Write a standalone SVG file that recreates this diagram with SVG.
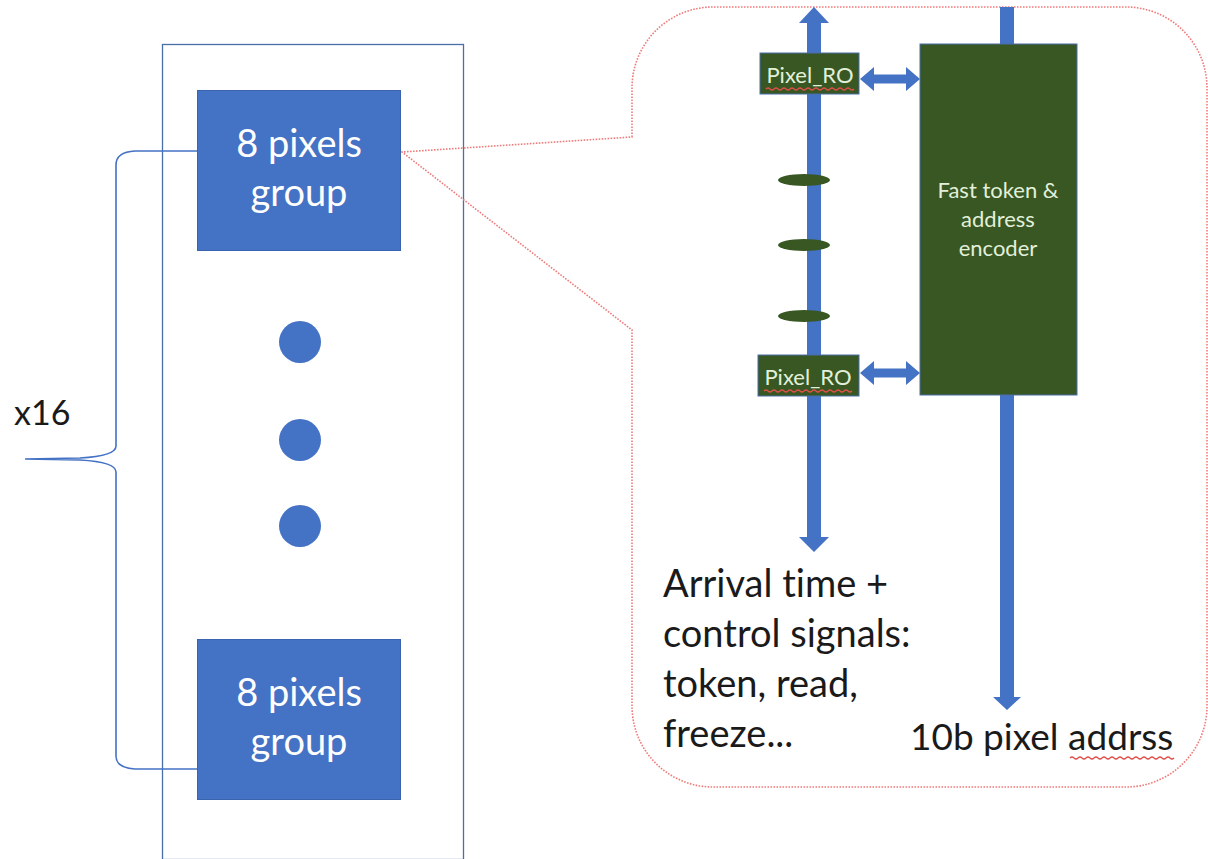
<svg xmlns="http://www.w3.org/2000/svg" width="1208" height="859" viewBox="0 0 1208 859">
<style>
text{font-variant-ligatures:none;font-feature-settings:"liga" 0}
.blue{fill:#4472c4}
.grp{fill:#4472c4;stroke:#3a64ad;stroke-width:1}
.grn{fill:#385723;stroke:#4a6fa8;stroke-width:1}
.wt{font-family:Lato,"Liberation Sans",sans-serif;fill:#ffffff;text-anchor:middle}
.lt{font-family:Lato,"Liberation Sans",sans-serif;fill:#e2f0d9;text-anchor:middle}
.bk{font-family:Lato,"Liberation Sans",sans-serif;fill:#1a1a1a}
.sq{fill:none;stroke:#e0504a;stroke-width:1.2}
</style>
<rect width="1208" height="859" fill="#ffffff"/>
<g id="column">
  <rect x="162.5" y="44.5" width="301" height="815" fill="none" stroke="#4a6fa8" stroke-width="1.3"/>
</g>
<g id="callout">
  <path d="M632,137 L632,88 A81,81 0 0 1 713,7 L1126,7 A81,81 0 0 1 1207,88 L1207,706 A81,81 0 0 1 1126,787 L713,787 A81,81 0 0 1 632,706 L632,330 L402,152 Z" fill="none" stroke="#ee7c7c" stroke-width="1.6" stroke-dasharray="1.6 1.4"/>
</g>
<g id="group-top">
  <rect class="grp" x="197.5" y="90.5" width="203" height="160"/>
  <text class="wt" x="299" y="157" font-size="38">8 pixels</text>
  <text class="wt" x="299" y="206" font-size="38">group</text>
</g>
<g id="dots">
  <circle class="blue" cx="300" cy="342" r="21"/>
  <circle class="blue" cx="300" cy="440" r="21"/>
  <circle class="blue" cx="300" cy="526" r="21"/>
</g>
<g id="group-bottom">
  <rect class="grp" x="197.5" y="639.5" width="203" height="160"/>
  <text class="wt" x="299" y="706" font-size="38">8 pixels</text>
  <text class="wt" x="299" y="755" font-size="38">group</text>
</g>
<g id="brace">
  <path d="M197,151 L135,151 Q116,152 116,165 L116,446 Q116,456 80,458 L25,459 M25,459 L80,460 Q116,462 116,472 L116,756 Q116,768 135,769 L197,769" fill="none" stroke="#4472c4" stroke-width="1.6"/>
  <text class="bk" x="14" y="425" font-size="34">x16</text>
</g>
<g id="connectors">
  <path class="blue" d="M814,7 L829,23 L821,23 L821,537 L829,537 L814,552 L799,537 L807,537 L807,23 L799,23 Z"/>
  <path class="blue" d="M1000,7 L1014,7 L1014,697 L1021,697 L1007,710 L993,697 L1000,697 Z"/>
  <path class="blue" d="M860,79 L874,67 L874,74.5 L906,74.5 L906,67 L920,79 L906,91 L906,83.5 L874,83.5 L874,91 Z"/>
  <path class="blue" d="M860,373 L874,361 L874,368.5 L906,368.5 L906,361 L920,373 L906,385 L906,377.5 L874,377.5 L874,385 Z"/>
</g>
<g id="bus-dots">
  <ellipse cx="804" cy="180" rx="26" ry="6" fill="#385723"/>
  <ellipse cx="804" cy="245" rx="26" ry="6" fill="#385723"/>
  <ellipse cx="804" cy="316" rx="26" ry="6" fill="#385723"/>
</g>
<g id="pixel-ro-top">
  <rect class="grn" x="760" y="53" width="99" height="41"/>
  <text class="lt" x="810" y="83" font-size="22">Pixel_RO</text>
  <path class="sq" d="M766,89 q2,-2 4,0 t4,0 t4,0 t4,0 t4,0 t4,0 t4,0 t4,0 t4,0 t4,0 t4,0 t4,0 t4,0 t4,0 t4,0 t4,0 t4,0 t4,0 t4,0 t4,0 t4,0 t4,0"/>
</g>
<g id="pixel-ro-bottom">
  <rect class="grn" x="758" y="355" width="101" height="41"/>
  <text class="lt" x="808" y="385" font-size="22">Pixel_RO</text>
  <path class="sq" d="M764,391 q2,-2 4,0 t4,0 t4,0 t4,0 t4,0 t4,0 t4,0 t4,0 t4,0 t4,0 t4,0 t4,0 t4,0 t4,0 t4,0 t4,0 t4,0 t4,0 t4,0 t4,0 t4,0 t4,0"/>
</g>
<g id="encoder">
  <rect class="grn" x="920" y="44" width="157" height="351"/>
  <text class="lt" x="998" y="198" font-size="22">Fast token &amp;</text>
  <text class="lt" x="998" y="227" font-size="22">address</text>
  <text class="lt" x="998" y="256" font-size="22">encoder</text>
</g>
<g id="labels">
  <text class="bk" x="663" y="597" font-size="38">Arrival time +</text>
  <text class="bk" x="663" y="647" font-size="38">control signals:</text>
  <text class="bk" x="663" y="697" font-size="38">token, read,</text>
  <text class="bk" x="663" y="747" font-size="38">freeze...</text>
  <text class="bk" x="910" y="750" font-size="37">10b pixel addrss</text>
  <path class="sq" d="M1070,758 q2,-2 4,0 t4,0 t4,0 t4,0 t4,0 t4,0 t4,0 t4,0 t4,0 t4,0 t4,0 t4,0 t4,0 t4,0 t4,0 t4,0 t4,0 t4,0 t4,0 t4,0 t4,0 t4,0 t4,0 t4,0 t4,0 t4,0"/>
</g>
</svg>
